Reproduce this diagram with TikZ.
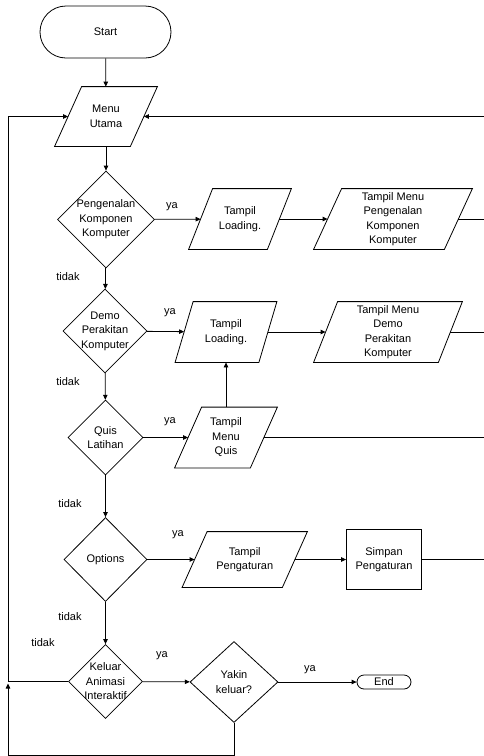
\documentclass[tikz,border=0pt]{standalone}
\usepackage{fontspec}
\setmainfont{Liberation Sans}
\usetikzlibrary{shapes.geometric,arrows.meta}
% outline of an input/output box: the node is the body, the sides lean by 2*#2
\newcommand\drawpara[2]{%
  \draw ([xshift=#2]#1.north west) -- ([xshift=#2]#1.north east)
    -- ([xshift=-#2]#1.south east) -- ([xshift=-#2]#1.south west) -- cycle;}
\begin{document}
\begin{tikzpicture}[x=1pt,y=-1pt,
  font=\fontsize{11}{14.5}\selectfont,
  line width=0.8pt,
  every node/.style={align=center},
  flow/.style={-{Triangle[length=5pt,width=4.5pt]}},
  term/.style={draw, rectangle, rounded corners=#1, inner sep=0pt},
  dec/.style={draw, diamond, inner sep=0pt},
  io/.style={rectangle, inner sep=0pt},
  proc/.style={draw, rectangle, inner sep=0pt},
  lbl/.style={inner sep=0pt},
]
\useasboundingbox (0,0) rectangle (484,756);

% terminals
\node[term=26pt, minimum width=131pt, minimum height=52pt] (start) at (105.5,32) {Start};
\node[term=7pt, minimum width=54pt, minimum height=14pt] (end) at (384,682) {End};

% main menu
\node[io, minimum width=75pt, minimum height=59pt] (mu) at (106,116.5) {Menu\\Utama};
\drawpara{mu}{13.5pt}

% decisions
\node[dec, minimum width=97pt, minimum height=97pt,
  label={[lbl]center:Pengenalan\\Komponen\\Komputer}] (d1) at (106,219.5) {};
\node[dec, minimum width=84pt, minimum height=84pt,
  label={[lbl]center:Demo\\Perakitan\\Komputer}] (d2) at (105,331) {};
\node[dec, minimum width=75pt, minimum height=75pt,
  label={[lbl]center:Quis\\Latihan}] (d3) at (105.5,437.5) {};
\node[dec, minimum width=83pt, minimum height=84pt,
  label={[lbl]center:Options}] (d4) at (105.5,559.5) {};
\node[dec, minimum width=74pt, minimum height=74pt,
  label={[lbl]center:Keluar\\Animasi\\Interaktif}] (d5) at (105.5,681.5) {};
\node[dec, minimum width=88pt, minimum height=81pt,
  label={[lbl]center:Yakin\\keluar?}] (d6) at (234,682) {};

% outputs
\node[io, minimum width=78pt, minimum height=60pt] (l1) at (240,219) {Tampil\\Loading.};
\drawpara{l1}{12pt}
\node[io, minimum width=130pt, minimum height=60pt] (m1) at (393,219) {Tampil Menu\\Pengenalan\\Komponen\\Komputer};
\drawpara{m1}{14pt}
\node[io, minimum width=83pt, minimum height=60pt] (l2) at (226,332) {Tampil\\Loading.};
\drawpara{l2}{9pt}
\node[io, minimum width=124pt, minimum height=60pt] (m2) at (388,332) {Tampil Menu\\Demo\\Perakitan\\Komputer};
\drawpara{m2}{12pt}
\node[io, minimum width=75pt, minimum height=60pt] (m3) at (226,437.5) {Tampil\\Menu\\Quis};
\drawpara{m3}{13.5pt}
\node[io, minimum width=99.5pt, minimum height=55pt] (tp) at (244.75,559.5) {Tampil\\Pengaturan};
\drawpara{tp}{12.5pt}
\node[proc, minimum width=75pt, minimum height=60pt] (sp) at (384,559.5) {Simpan\\Pengaturan};

% branch labels
\node[lbl] (ya1) at (172,207) {ya};
\node[lbl] (td1) at (68,277) {tidak};
\node[lbl] (ya2) at (170,313) {ya};
\node[lbl] (td2) at (68,382) {tidak};
\node[lbl] (ya3) at (170,422) {ya};
\node[lbl] (td3) at (70,504) {tidak};
\node[lbl] (ya4) at (178,535) {ya};
\node[lbl] (td4) at (70,617) {tidak};
\node[lbl] (td5) at (43,643) {tidak};
\node[lbl] (ya5) at (162,656) {ya};
\node[lbl] (ya6) at (310,670) {ya};

% loop points
\coordinate (rt) at (484,116.5);
\coordinate (r1) at (484,219);
\coordinate (r2) at (484,332);
\coordinate (r3) at (484,437.5);
\coordinate (r4) at (484,559.5);
\coordinate (lt) at (8,116.5);
\coordinate (lm) at (8,681.5);
\coordinate (lj) at (8,683.5);
\coordinate (lb) at (8,755);
\coordinate (yb) at (234,755);

% main column
\draw[flow] (start) -- (mu);
\draw[flow] (mu) -- (d1);
\draw[flow] (d1) -- (d2);
\draw[flow] (d2) -- (d3);
\draw[flow] (d3) -- (d4);
\draw[flow] (d4) -- (d5);

% yes branches
\draw[flow] (d1) -- (l1);
\draw[flow] (l1) -- (m1);
\draw (m1) -- (r1);
\draw[flow] (d2) -- (l2);
\draw[flow] (l2) -- (m2);
\draw (m2) -- (r2);
\draw[flow] (d3) -- (m3);
\draw[flow] (m3) -- (l2);
\draw (m3) -- (r3);
\draw[flow] (d4) -- (tp);
\draw[flow] (tp) -- (sp);
\draw (sp) -- (r4);
\draw[flow] (d5) -- (d6);
\draw[flow] (d6) -- (end);

% returns to the main menu
\draw[flow] (rt) -- (mu);
\draw[flow] (d5) -- (lm) -- (lt) -- (mu);
\draw[flow] (d6) -- (yb) -- (lb) -- (lj);
\end{tikzpicture}
\end{document}
